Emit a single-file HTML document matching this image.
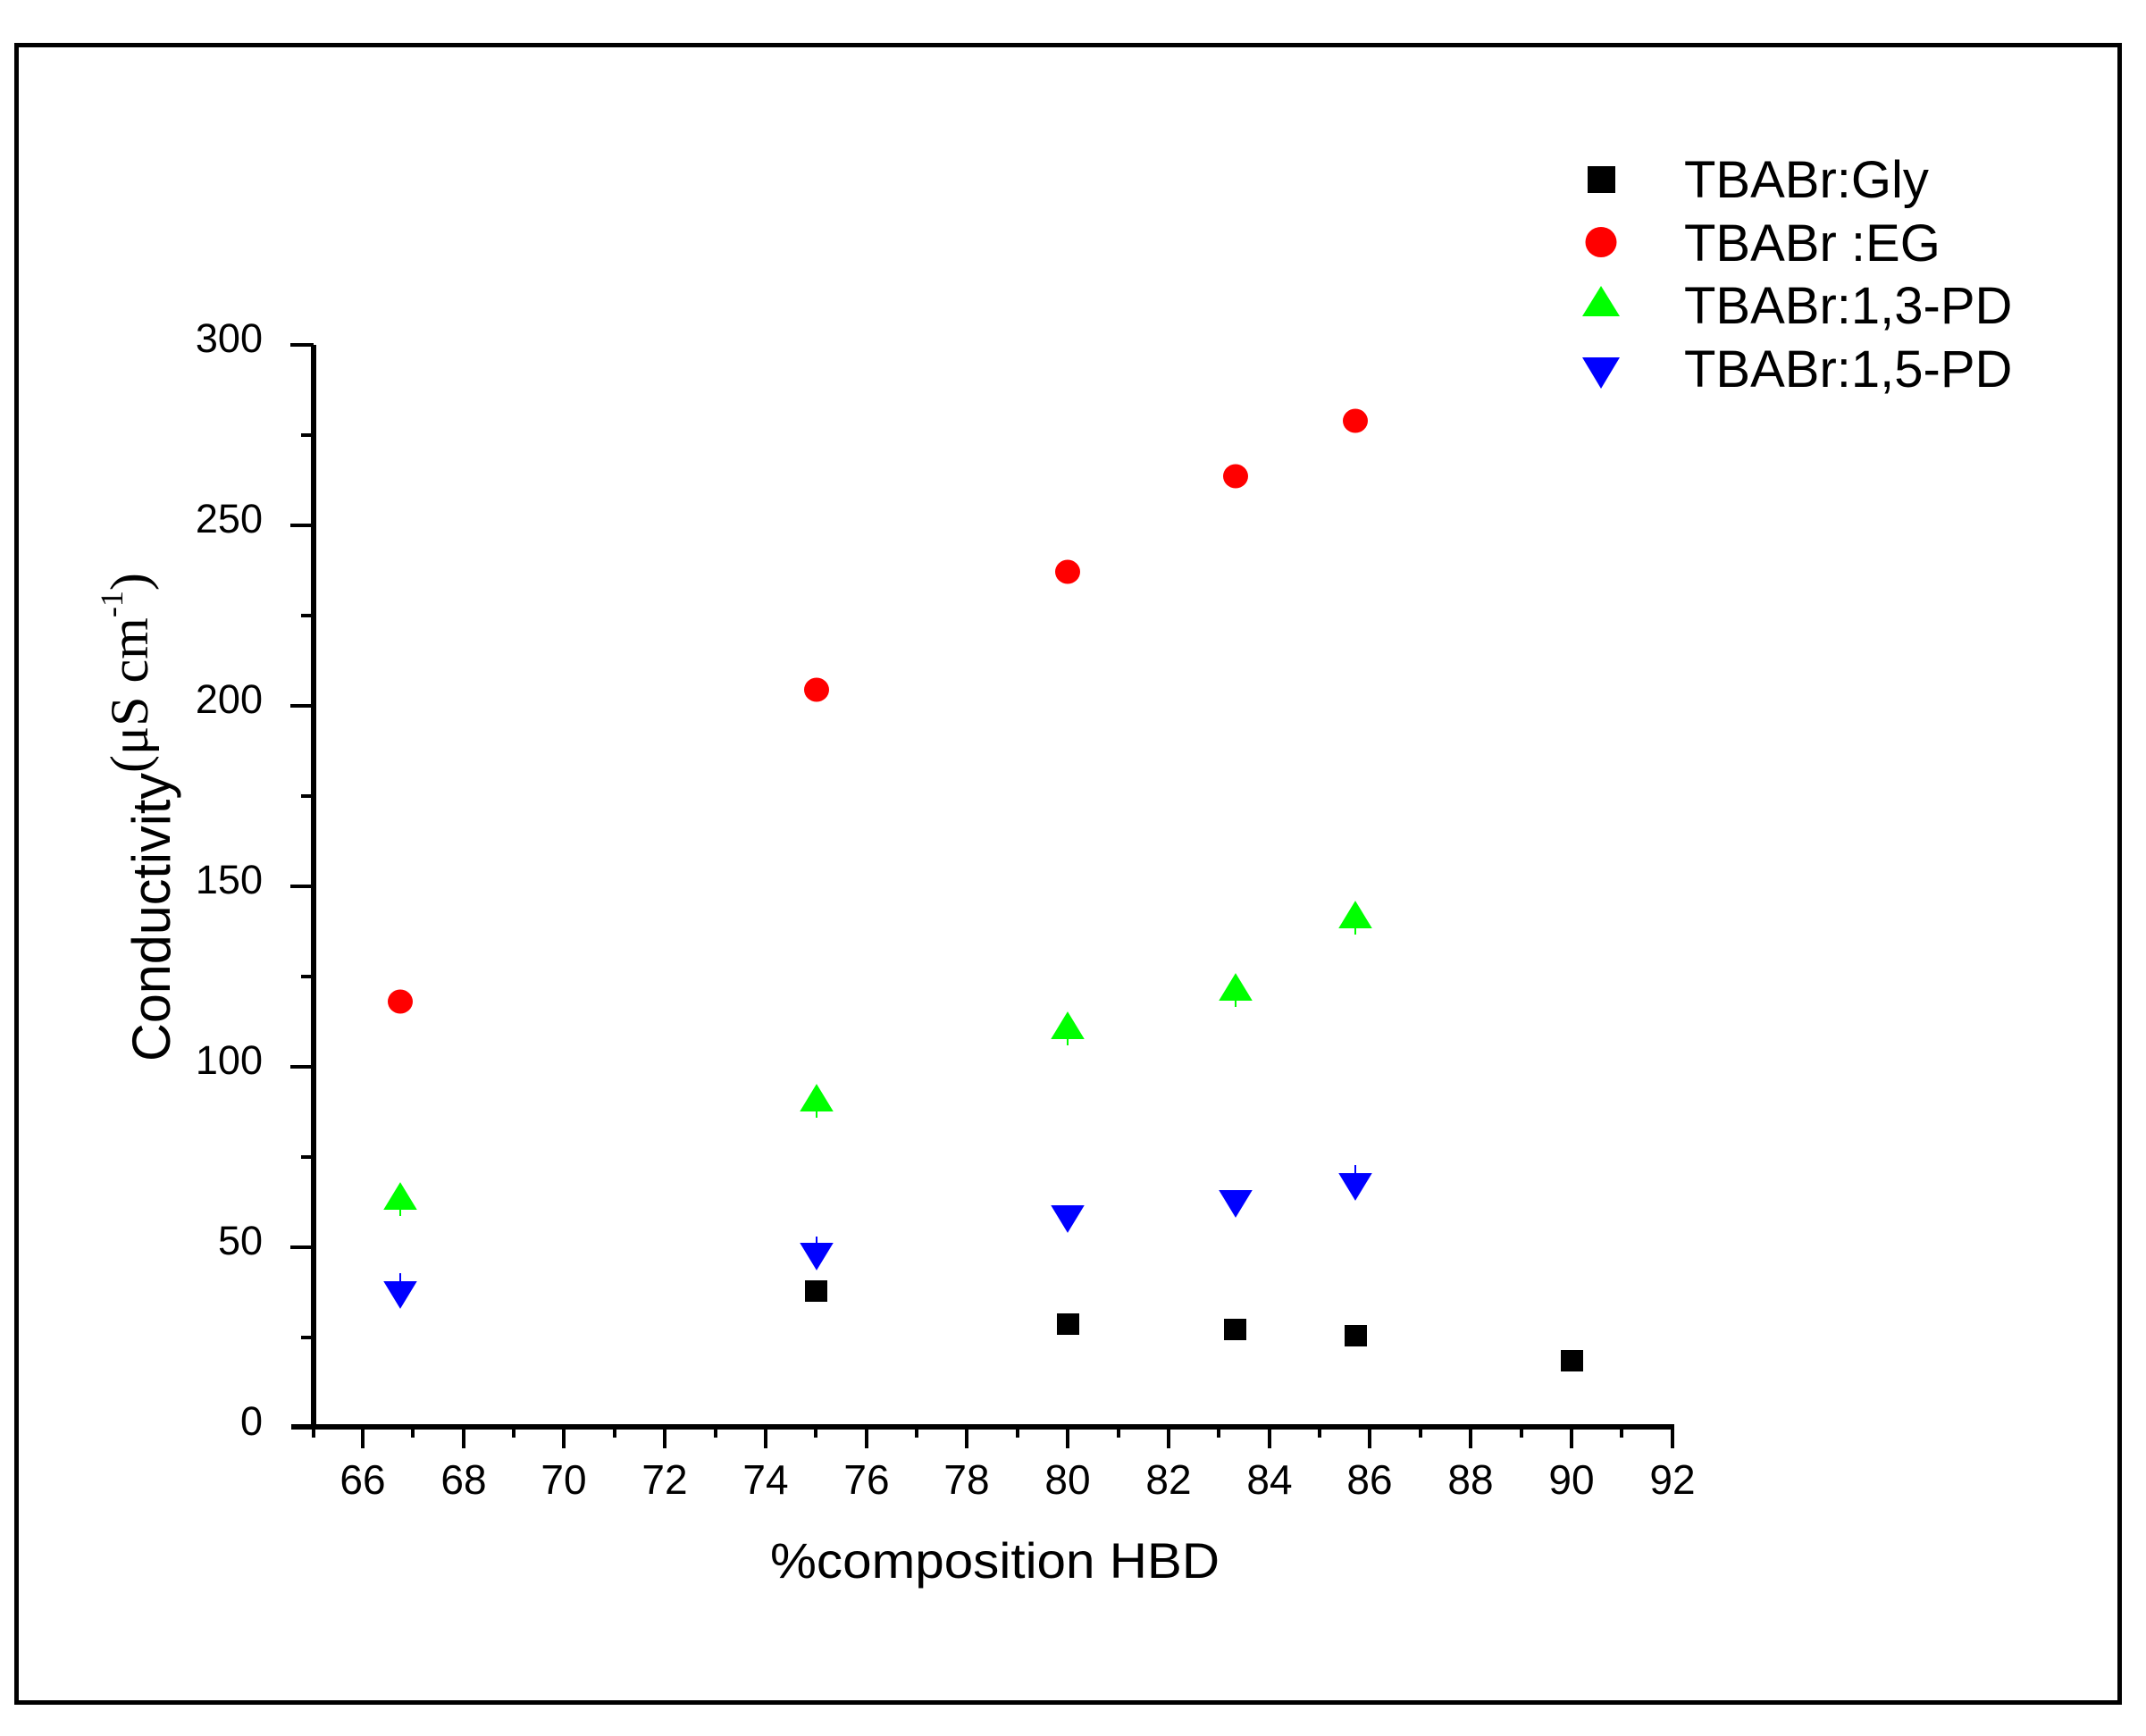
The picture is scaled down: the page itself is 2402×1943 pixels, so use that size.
<!DOCTYPE html>
<html><head><meta charset="utf-8"><style>html,body{margin:0;padding:0;background:#fff}svg{display:block}</style></head>
<body>
<svg width="2402" height="1943" viewBox="0 0 2402 1943" xmlns="http://www.w3.org/2000/svg">
<rect x="0" y="0" width="2402" height="1943" fill="#fff"/>
<rect x="18.5" y="50.5" width="2354" height="1855" fill="none" stroke="#000" stroke-width="5"/>
<g stroke="#000" stroke-linecap="butt">
<line x1="351" y1="386" x2="351" y2="1600" stroke-width="6"/>
<line x1="326" y1="1597" x2="1874" y2="1597" stroke-width="6"/>
<g stroke-width="4">
<line x1="325" y1="386" x2="351" y2="386"/>
<line x1="325" y1="588" x2="351" y2="588"/>
<line x1="325" y1="790" x2="351" y2="790"/>
<line x1="325" y1="992" x2="351" y2="992"/>
<line x1="325" y1="1194" x2="351" y2="1194"/>
<line x1="325" y1="1396" x2="351" y2="1396"/>
<line x1="337" y1="487" x2="351" y2="487"/>
<line x1="337" y1="689" x2="351" y2="689"/>
<line x1="337" y1="891" x2="351" y2="891"/>
<line x1="337" y1="1093" x2="351" y2="1093"/>
<line x1="337" y1="1295" x2="351" y2="1295"/>
<line x1="337" y1="1497" x2="351" y2="1497"/>
</g>
<g stroke-width="4">
<line x1="406" y1="1597" x2="406" y2="1621"/><line x1="519" y1="1597" x2="519" y2="1621"/><line x1="631" y1="1597" x2="631" y2="1621"/><line x1="744" y1="1597" x2="744" y2="1621"/><line x1="857" y1="1597" x2="857" y2="1621"/><line x1="970" y1="1597" x2="970" y2="1621"/><line x1="1082" y1="1597" x2="1082" y2="1621"/><line x1="1195" y1="1597" x2="1195" y2="1621"/><line x1="1308" y1="1597" x2="1308" y2="1621"/><line x1="1421" y1="1597" x2="1421" y2="1621"/><line x1="1533" y1="1597" x2="1533" y2="1621"/><line x1="1646" y1="1597" x2="1646" y2="1621"/><line x1="1759" y1="1597" x2="1759" y2="1621"/><line x1="1872" y1="1597" x2="1872" y2="1621"/>
<line x1="351" y1="1597" x2="351" y2="1609"/><line x1="462" y1="1597" x2="462" y2="1609"/><line x1="575" y1="1597" x2="575" y2="1609"/><line x1="688" y1="1597" x2="688" y2="1609"/><line x1="801" y1="1597" x2="801" y2="1609"/><line x1="913" y1="1597" x2="913" y2="1609"/><line x1="1026" y1="1597" x2="1026" y2="1609"/><line x1="1139" y1="1597" x2="1139" y2="1609"/><line x1="1252" y1="1597" x2="1252" y2="1609"/><line x1="1364" y1="1597" x2="1364" y2="1609"/><line x1="1477" y1="1597" x2="1477" y2="1609"/><line x1="1590" y1="1597" x2="1590" y2="1609"/><line x1="1703" y1="1597" x2="1703" y2="1609"/><line x1="1815" y1="1597" x2="1815" y2="1609"/>
</g>
</g>
<g font-family="Liberation Sans, sans-serif" font-size="45" fill="#000" text-anchor="end">
<text x="294" y="394">300</text><text x="294" y="596">250</text><text x="294" y="798">200</text><text x="294" y="1000">150</text><text x="294" y="1202">100</text><text x="294" y="1404">50</text><text x="294" y="1606">0</text>
</g>
<g font-family="Liberation Sans, sans-serif" font-size="46" fill="#000" text-anchor="middle">
<text x="406" y="1672">66</text><text x="519" y="1672">68</text><text x="631" y="1672">70</text><text x="744" y="1672">72</text><text x="857" y="1672">74</text><text x="970" y="1672">76</text><text x="1082" y="1672">78</text><text x="1195" y="1672">80</text><text x="1308" y="1672">82</text><text x="1421" y="1672">84</text><text x="1533" y="1672">86</text><text x="1646" y="1672">88</text><text x="1759" y="1672">90</text><text x="1872" y="1672">92</text>
</g>
<text x="862" y="1766" font-family="Liberation Sans, sans-serif" font-size="56" textLength="503" lengthAdjust="spacingAndGlyphs">%composition HBD</text>
<g transform="translate(190,1188) rotate(-90)">
<text x="0" y="0" font-family="Liberation Sans, sans-serif" font-size="60" textLength="323" lengthAdjust="spacingAndGlyphs">Conductivity</text>
<text x="323" y="-25" font-family="Liberation Serif, serif" font-size="60">(μS cm<tspan font-size="36" dy="-28">-1</tspan><tspan dy="28">)</tspan></text>
</g>
<g fill="#000">
<rect x="901" y="1433" width="25" height="24"/>
<rect x="1183" y="1470" width="25" height="24"/>
<rect x="1370" y="1476" width="25" height="24"/>
<rect x="1505" y="1483" width="25" height="24"/>
<rect x="1747" y="1511" width="25" height="24"/>
</g>
<g fill="#ff0000">
<ellipse cx="448" cy="1121" rx="14" ry="13.5"/>
<ellipse cx="914" cy="772" rx="14" ry="13.5"/>
<ellipse cx="1195" cy="640" rx="14" ry="13.5"/>
<ellipse cx="1383" cy="533" rx="14" ry="13.5"/>
<ellipse cx="1517" cy="471" rx="14" ry="13.5"/>
</g>
<g fill="#00ff00" stroke="#00ff00" stroke-width="2">
<polygon points="448,1325 431,1353 465,1353"/><line x1="448" y1="1351" x2="448" y2="1361"/>
<polygon points="914,1215 897,1243 931,1243"/><line x1="914" y1="1241" x2="914" y2="1251"/>
<polygon points="1195,1134 1178,1162 1212,1162"/><line x1="1195" y1="1160" x2="1195" y2="1170"/>
<polygon points="1383,1091 1366,1119 1400,1119"/><line x1="1383" y1="1117" x2="1383" y2="1127"/>
<polygon points="1517,1010 1500,1038 1534,1038"/><line x1="1517" y1="1036" x2="1517" y2="1046"/>
</g>
<g fill="#0000ff" stroke="#0000ff" stroke-width="2">
<polygon points="431,1435 465,1435 448,1463"/><line x1="448" y1="1425" x2="448" y2="1437"/>
<polygon points="897,1392 931,1392 914,1420"/><line x1="914" y1="1384" x2="914" y2="1394"/>
<polygon points="1178,1350 1212,1350 1195,1378"/>
<polygon points="1366,1333 1400,1333 1383,1361"/>
<polygon points="1500,1314 1534,1314 1517,1342"/><line x1="1517" y1="1304" x2="1517" y2="1316"/>
</g>
<rect x="1777" y="186" width="31" height="30" fill="#000"/>
<ellipse cx="1792" cy="271" rx="17.5" ry="17" fill="#ff0000"/>
<polygon points="1792,320 1771,354 1813,354" fill="#00ff00"/>
<polygon points="1771,400 1813,400 1792,435" fill="#0000ff"/>
<g font-family="Liberation Sans, sans-serif" font-size="58" fill="#000">
<text x="1885" y="221">TBABr:Gly</text>
<text x="1885" y="292">TBABr :EG</text>
<text x="1885" y="362">TBABr:1,3-PD</text>
<text x="1885" y="433">TBABr:1,5-PD</text>
</g>
</svg>
</body></html>
